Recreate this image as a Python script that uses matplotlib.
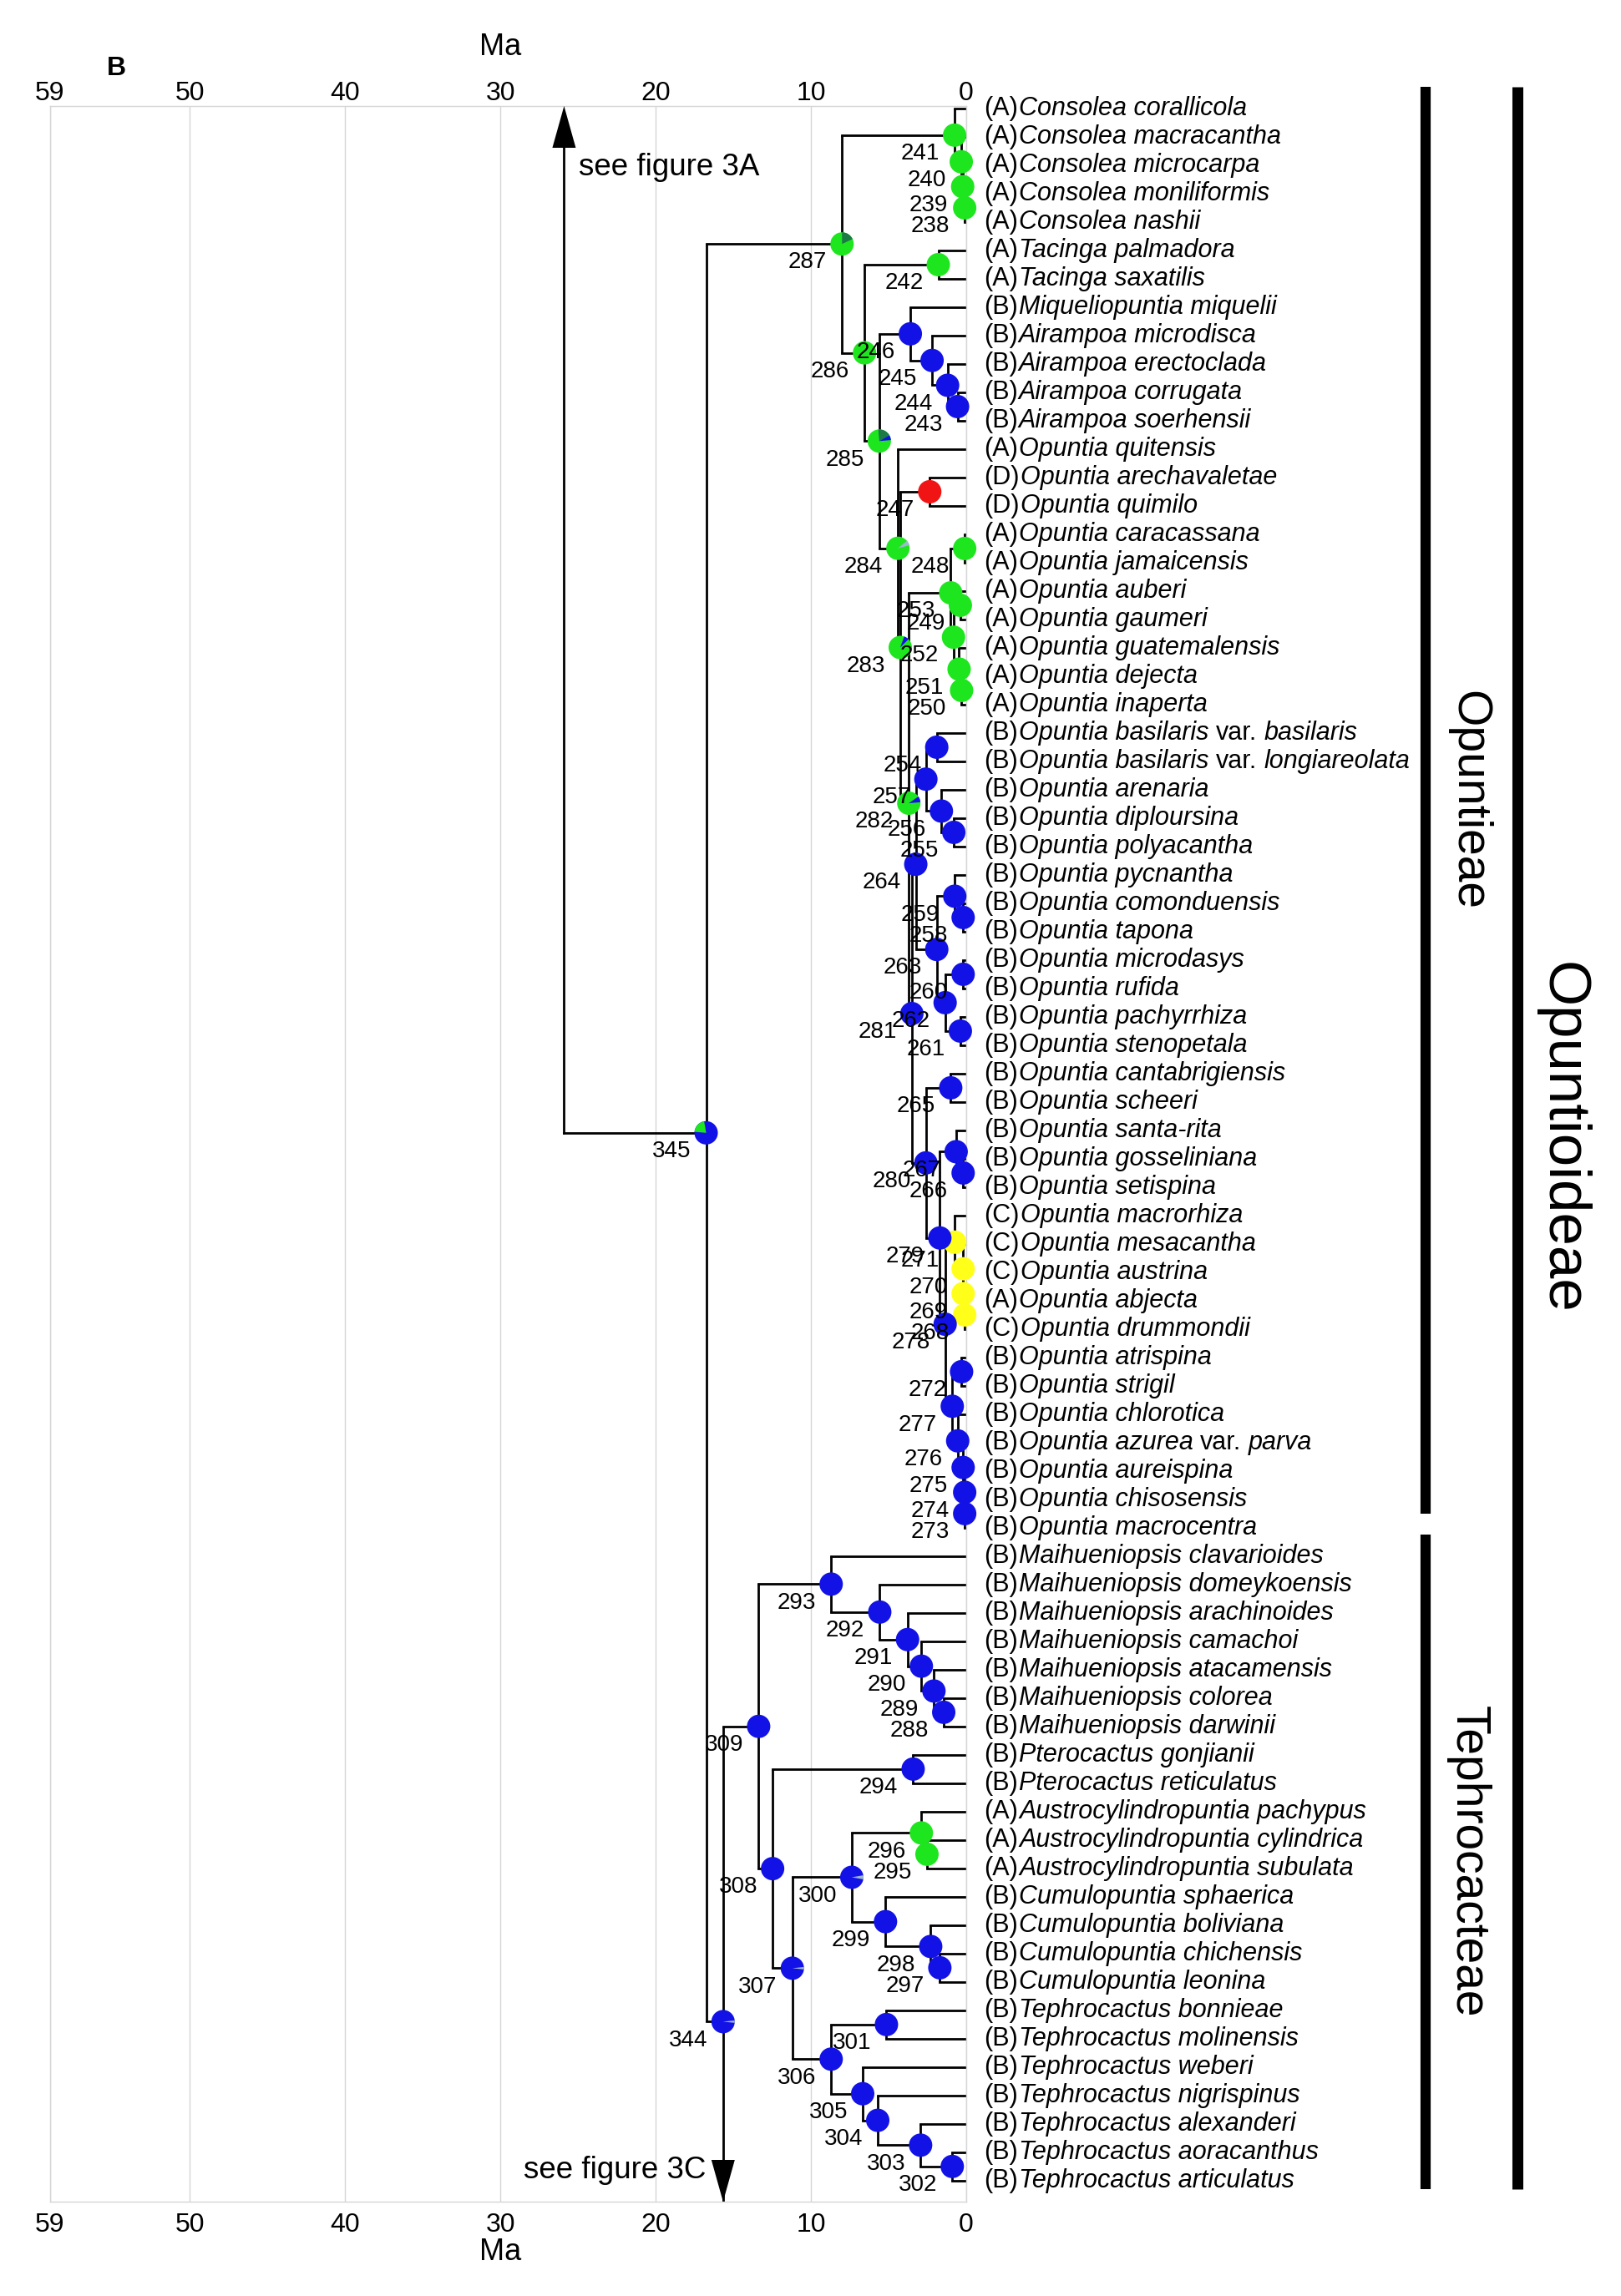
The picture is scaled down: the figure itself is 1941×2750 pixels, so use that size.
import matplotlib
matplotlib.use("Agg")
import matplotlib.pyplot as plt
from matplotlib import font_manager, transforms
from matplotlib.patches import Wedge, Polygon

plt.rcParams['font.family'] = ['Liberation Sans', 'DejaVu Sans']
installed = {f.name for f in font_manager.fontManager.ttflist}
narrow = 'Liberation Sans Narrow' in installed

# tips, top to bottom, with their area code
taxa_state = list('AAAAAAA' 'BBBBB' 'A' 'DD' 'AAAAAAA' + 'B' * 17 + 'CCC' 'A' 'C'
                  + 'B' * 16 + 'AAA' + 'B' * 11)
taxa_name = [
    'Consolea corallicola', 'Consolea macracantha', 'Consolea microcarpa',
    'Consolea moniliformis', 'Consolea nashii', 'Tacinga palmadora', 'Tacinga saxatilis',
    'Miqueliopuntia miquelii', 'Airampoa microdisca', 'Airampoa erectoclada',
    'Airampoa corrugata', 'Airampoa soerhensii', 'Opuntia quitensis',
    'Opuntia arechavaletae', 'Opuntia quimilo', 'Opuntia caracassana', 'Opuntia jamaicensis',
    'Opuntia auberi', 'Opuntia gaumeri', 'Opuntia guatemalensis', 'Opuntia dejecta',
    'Opuntia inaperta', 'Opuntia basilaris var. basilaris',
    'Opuntia basilaris var. longiareolata', 'Opuntia arenaria', 'Opuntia diploursina',
    'Opuntia polyacantha', 'Opuntia pycnantha', 'Opuntia comonduensis', 'Opuntia tapona',
    'Opuntia microdasys', 'Opuntia rufida', 'Opuntia pachyrrhiza', 'Opuntia stenopetala',
    'Opuntia cantabrigiensis', 'Opuntia scheeri', 'Opuntia santa-rita',
    'Opuntia gosseliniana', 'Opuntia setispina', 'Opuntia macrorhiza', 'Opuntia mesacantha',
    'Opuntia austrina', 'Opuntia abjecta', 'Opuntia drummondii', 'Opuntia atrispina',
    'Opuntia strigil', 'Opuntia chlorotica', 'Opuntia azurea var. parva',
    'Opuntia aureispina', 'Opuntia chisosensis', 'Opuntia macrocentra',
    'Maihueniopsis clavarioides', 'Maihueniopsis domeykoensis', 'Maihueniopsis arachinoides',
    'Maihueniopsis camachoi', 'Maihueniopsis atacamensis', 'Maihueniopsis colorea',
    'Maihueniopsis darwinii', 'Pterocactus gonjianii', 'Pterocactus reticulatus',
    'Austrocylindropuntia pachypus', 'Austrocylindropuntia cylindrica',
    'Austrocylindropuntia subulata', 'Cumulopuntia sphaerica', 'Cumulopuntia boliviana',
    'Cumulopuntia chichensis', 'Cumulopuntia leonina', 'Tephrocactus bonnieae',
    'Tephrocactus molinensis', 'Tephrocactus weberi', 'Tephrocactus nigrispinus',
    'Tephrocactus alexanderi', 'Tephrocactus aoracanthus', 'Tephrocactus articulatus',
]

# internal nodes: children < 200 are tip indices, -1 = clade continued in figure 3C
node_id = list(range(238, 310)) + [344, 345]
node_age = [0.1, 0.23, 0.32, 0.75, 1.8, 0.56, 1.2, 2.2, 3.6, 2.35,
            0.1, 0.38, 0.3, 0.46, 0.82, 1.0, 1.9, 0.8, 1.6, 2.6,
            0.2, 0.74, 0.2, 0.38, 1.36, 1.9, 3.25, 1.0, 0.2, 0.65,
            0.1, 0.2, 0.2, 0.74, 0.3, 0.1, 0.1, 0.2, 0.55, 0.9,
            1.36, 1.7, 2.6, 3.5, 3.7, 4.25, 4.4, 5.6, 6.55, 8.0,
            1.45, 2.08, 2.89, 3.78, 5.57, 8.7, 3.42, 2.53, 2.89, 1.7,
            2.29, 5.2, 7.37, 5.14, 0.9, 2.94, 5.7, 6.67, 8.7, 11.2,
            12.47, 13.37, 15.66, 16.75]
node_kids = [(3, 4), (2, 238), (1, 239), (0, 240), (5, 6), (10, 11), (9, 243), (8, 244),
             (7, 245), (13, 14), (15, 16), (17, 18), (20, 21), (19, 250), (249, 251),
             (248, 252), (22, 23), (25, 26), (24, 255), (254, 256), (28, 29), (27, 258),
             (30, 31), (32, 33), (260, 261), (259, 262), (257, 263), (34, 35), (37, 38),
             (36, 266), (42, 43), (41, 268), (40, 269), (39, 270), (44, 45), (49, 50),
             (48, 273), (47, 274), (46, 275), (272, 276), (271, 277), (267, 278),
             (265, 279), (264, 280), (253, 281), (247, 282), (12, 283), (246, 284),
             (242, 285), (241, 286), (56, 57), (55, 288), (54, 289), (53, 290), (52, 291),
             (51, 292), (58, 59), (61, 62), (60, 295), (65, 66), (64, 297), (63, 298),
             (296, 299), (67, 68), (72, 73), (71, 302), (70, 303), (69, 304), (301, 305),
             (300, 306), (294, 307), (293, 308), (309, -1), (287, 344)]
# 238-242 A, 243-246 B, 247 D, 248-253 A, 254-267 B, 268-271 C, 272-281 B,
# 282-287 A, 288-294 B, 295-296 A, 297-309 B, 344-345 B
node_state = ('AAAAA' 'BBBB' 'D' 'AAAAAA' + 'B' * 14 + 'CCCC' + 'B' * 10 + 'AAAAAA'
              + 'B' * 7 + 'AA' + 'B' * 13 + 'BB')
# minor states drawn as wedges on top of the main colour: (state, from deg, to deg)
node_wedges = {
    287: [('AB', 25, 90)],
    285: [('AB', 30, 95), ('B', 5, 30)],
    284: [('mix', 15, 40)],
    283: [('B', 45, 70)],
    282: [('B', 5, 35)],
    300: [('mix', -10, 10)],
    307: [('mix', -6, 6)],
    344: [('mix', -6, 6)],
    345: [('A', 100, 175)],
}
state_colors = {'A': '#1ee61e', 'B': '#1212e6', 'C': '#ffff1a', 'D': '#f01414',
                'AB': '#1b7a45', 'mix': '#9db8cc'}

clade_names = ['Opuntieae', 'Tephrocacteae']
clade_first = [0, 51]
clade_last = [50, 73]
subfamily = 'Opuntioideae'

ticks = [59, 50, 40, 30, 20, 10, 0]
offpage_row = 77.8      # virtual row of the clade drawn in figure 3C
arrow_3a_age = 25.9     # stem leading to the clade drawn in figure 3A


def row_of(k):
    if k == -1:
        return offpage_row
    if k < 200:
        return float(k)
    a, b = node_kids[node_id.index(k)]
    return (row_of(a) + row_of(b)) / 2


def age_of(k, parent_age):
    if k == -1:
        return parent_age
    if k < 200:
        return 0.0
    return node_age[node_id.index(k)]


fig = plt.figure(figsize=(19.41, 27.5), dpi=100)
ax = fig.add_axes([0.03091, 0.04109, 0.56517, 0.91273])
ax.set_xlim(59, 0)
ax.set_ylim(73.74, -0.088)

gray = '#d6d6d6'
for s in ax.spines.values():
    s.set_color(gray)
    s.set_linewidth(1.0)
ax.set_xticks(ticks)
ax.set_xticklabels([str(t) for t in ticks])
ax.tick_params(axis='x', length=0, labelsize=23, pad=9.4)
ax.tick_params(axis='y', left=False, labelleft=False)
ax.grid(axis='x', color=gray, lw=1.0)
ax.set_axisbelow(True)

top = ax.secondary_xaxis('top')
top.set_xticks(ticks)
top.set_xticklabels([str(t) for t in ticks])
top.tick_params(length=0, labelsize=23, pad=0)
top.spines['top'].set_visible(False)

xt = ax.get_xaxis_transform()
ax.text(30, 1.0279, 'Ma', transform=xt, fontsize=26, ha='center', va='center')
ax.text(30, -0.0243, 'Ma', transform=xt, fontsize=26, ha='center', va='center')
ax.text(0.072, 1.0179, 'B', transform=ax.transAxes, fontsize=23, weight='bold',
        ha='center', va='center')

# branches
lw = 2.0
for nid, age, (a, b) in zip(node_id, node_age, node_kids):
    ya, yb = row_of(a), row_of(b)
    ax.plot([age, age], [ya, yb], color='black', lw=lw, solid_capstyle='butt', zorder=2)
    for k in (a, b):
        if k != -1:
            ax.plot([age, age_of(k, age)], [row_of(k), row_of(k)], color='black', lw=lw,
                    solid_capstyle='projecting', zorder=2)

# stem to figure 3A and arrowheads
root_age, root_row = node_age[-1], row_of(345)
ax.plot([root_age, arrow_3a_age], [root_row, root_row], color='black', lw=lw, zorder=2)
ax.plot([arrow_3a_age, arrow_3a_age], [root_row, 1.0], color='black', lw=lw, zorder=2)
ylo, yhi = ax.get_ylim()
tip_3c_age = node_age[node_id.index(344)]
for (xa, ya, d) in [(arrow_3a_age, yhi, -1), (tip_3c_age, ylo, 1)]:
    tr = fig.dpi_scale_trans + transforms.ScaledTranslation(xa, ya, ax.transData)
    ax.add_patch(Polygon([(0, 0), (-0.14, 0.5 * d), (0.14, 0.5 * d)], closed=True,
                         facecolor='black', edgecolor='none', transform=tr,
                         clip_on=False, zorder=3))
ax.text(24.95, 2.06, 'see figure 3A', fontsize=26.5, ha='left', va='center')
ax.text(16.77, 72.65, 'see figure 3C', fontsize=26.5, ha='right', va='center')

# ancestral-area pies and node numbers
r_in = 0.14
for nid, age, st in zip(node_id, node_age, node_state):
    y = row_of(nid)
    tr = fig.dpi_scale_trans + transforms.ScaledTranslation(age, y, ax.transData)
    ax.add_patch(Wedge((0, 0), r_in, 0, 360, facecolor=state_colors[st],
                       edgecolor='none', transform=tr, clip_on=False, zorder=4))
    for (s2, t1, t2) in node_wedges.get(nid, []):
        ax.add_patch(Wedge((0, 0), r_in, t1, t2, facecolor=state_colors[s2],
                           edgecolor='none', transform=tr, clip_on=False, zorder=4))
    ax.annotate(str(nid), xy=(age, y), xytext=(-13, -16), textcoords='offset points',
                ha='right', va='center', fontsize=20, zorder=5, annotation_clip=False)

# tip labels: (area) + italic name, "var." upright
fs = 22
space = 0.278 * fs
for i, (st, name) in enumerate(zip(taxa_state, taxa_name)):
    prev = ax.annotate('(' + st + ')', xy=(0, i), xytext=(15, 0),
                       textcoords='offset points', ha='left', va='center', fontsize=fs,
                       annotation_clip=False)
    parts = name.split(' var. ')
    pieces = [(parts[0], 'italic', 1.0)]
    if len(parts) > 1:
        pieces += [('var.', 'normal', space), (parts[1], 'italic', space)]
    for txt, style, gap in pieces:
        prev = ax.annotate(txt, xy=(1, 0), xycoords=prev, xytext=(gap, 0),
                           textcoords='offset points', ha='left', va='bottom',
                           fontsize=fs, style=style, annotation_clip=False)

# clade bars on the right
yt = ax.get_yaxis_transform()
starts = [f - 0.75 for f in clade_first]
ends = [l + 0.3 for l in clade_last]
ends[0] = starts[1] - 0.75
tribe_fs = 48 if narrow else 41
sub_fs = 62 if narrow else 51
label_font = ['Liberation Sans Narrow', 'Liberation Sans'] if narrow else ['Liberation Sans']
for name, y0, y1 in zip(clade_names, starts, ends):
    ax.plot([1.5018, 1.5018], [y0, y1], color='black', lw=8.8, transform=yt,
            clip_on=False, solid_capstyle='butt')
    ax.text(1.5342, (y0 + y1) / 2, name, transform=yt, rotation=270,
            rotation_mode='anchor', ha='center', va='baseline', fontsize=tribe_fs,
            family=label_font)
ax.plot([1.6020, 1.6020], [starts[0], ends[1]], color='black', lw=9.4, transform=yt,
        clip_on=False, solid_capstyle='butt')
ax.text(1.6333, (starts[0] + ends[1]) / 2, subfamily, transform=yt, rotation=270,
        rotation_mode='anchor', ha='center', va='baseline', fontsize=sub_fs,
        family=label_font)

fig.savefig('out.png', dpi=100)
